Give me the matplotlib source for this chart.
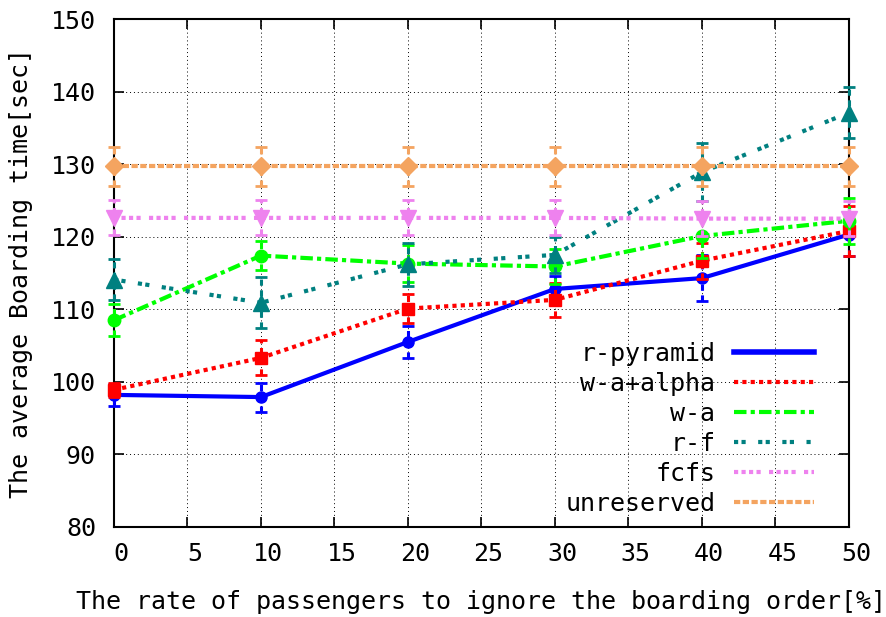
import matplotlib
matplotlib.use("Agg")
import matplotlib.pyplot as plt
from matplotlib.lines import Line2D
from matplotlib.transforms import ScaledTranslation

plt.rcParams['font.family'] = ['DejaVu Sans Mono']

rates = [0, 10, 20, 30, 40, 50]

r_pyramid = [98.2, 97.9, 105.5, 112.8, 114.3, 120.3]
r_pyramid_err = [1.5, 2.0, 2.2, 1.8, 3.2, 3.0]
wa_alpha = [98.9, 103.3, 110.1, 111.3, 116.7, 120.8]
wa_alpha_err = [1.0, 2.4, 2.0, 2.3, 2.5, 3.5]
wa = [108.5, 117.4, 116.3, 115.9, 120.1, 122.2]
wa_err = [2.2, 2.0, 2.6, 2.4, 3.0, 3.2]
rf = [114.1, 110.9, 116.2, 117.5, 128.9, 137.1]
rf_err = [2.8, 3.5, 3.0, 2.5, 4.0, 3.5]
fcfs = [122.6, 122.6, 122.6, 122.6, 122.5, 122.5]
fcfs_err = [2.4, 2.4, 2.4, 2.4, 2.4, 2.4]
unreserved = [129.7, 129.7, 129.7, 129.7, 129.7, 129.7]
unreserved_err = [2.7, 2.7, 2.7, 2.7, 2.7, 2.7]

labels = ["r-pyramid", "w-a+alpha", "w-a", "r-f", "fcfs", "unreserved"]
series = [r_pyramid, wa_alpha, wa, rf, fcfs, unreserved]
errors = [r_pyramid_err, wa_alpha_err, wa_err, rf_err, fcfs_err, unreserved_err]
colors = ['#0000ff', '#ff0000', '#00ff00', '#008080', '#ee82ee', '#f4a460']
markers = ['o', 's', 'o', '^', 'v', 'D']
msizes = [8, 9, 9, 11, 11, 9]
styles = ['-', (0, (1, 1)), (0, (3, 1, 1, 1)), (0, (1, 0.8, 1, 3)),
          (0, (1, 0.8, 1, 0.8, 1, 0.8, 1, 2)), (0, (1.5, 0.6))]
widths = [3.0, 3.0, 3.0, 3.0, 3.0, 3.0]

fig = plt.figure(figsize=(8.87, 6.17), dpi=100)
ax = fig.add_axes([0.1285, 0.146, 0.8285, 0.823])

handles = []
for i in range(len(series)):
    eb = ax.errorbar(rates, series[i], yerr=errors[i], color=colors[i],
                     marker=markers[i], markersize=msizes[i], linestyle=styles[i],
                     linewidth=widths[i], elinewidth=2.2, capsize=4, capthick=2,
                     zorder=3 + i)
    eb[2][0].set_linestyle((0, (2, 1.5)))
    for art in [eb[0]] + list(eb[1]) + list(eb[2]):
        art.set_clip_on(False)
    handles.append(Line2D([], [], color=colors[i], linestyle=styles[i],
                          linewidth=widths[i] + (1 if i == 0 else 0)))

ax.set_xlim(0, 50)
ax.set_ylim(80, 150)
ax.set_xticks(range(0, 51, 5))
ax.set_yticks(range(80, 151, 10))
ax.grid(True, color='black', linestyle=(0, (1, 3)), linewidth=0.7)
ax.tick_params(direction='in', length=7, width=1.2, labelsize=18,
               top=True, right=True)
ax.tick_params(axis='x', pad=11)
ax.tick_params(axis='y', pad=13)
for s in ax.spines.values():
    s.set_linewidth(1.5)
    s.set_zorder(2.5)

shift = ScaledTranslation(7 / 100, 0, fig.dpi_scale_trans)
for lab in ax.get_xticklabels():
    lab.set_transform(lab.get_transform() + shift)

ax.set_xlabel("The rate of passengers to ignore the boarding order[%]",
              fontsize=18, labelpad=17)
ax.set_ylabel("The average Boarding time[sec]", fontsize=18, labelpad=13)

ax.legend(handles, labels, loc='lower right', bbox_to_anchor=(0.953, 0.022),
          frameon=False, markerfirst=False, fontsize=18, handlelength=3.2,
          labelspacing=0.24, handletextpad=0.76, borderpad=0, borderaxespad=0)

fig.savefig("out.png", dpi=100)
